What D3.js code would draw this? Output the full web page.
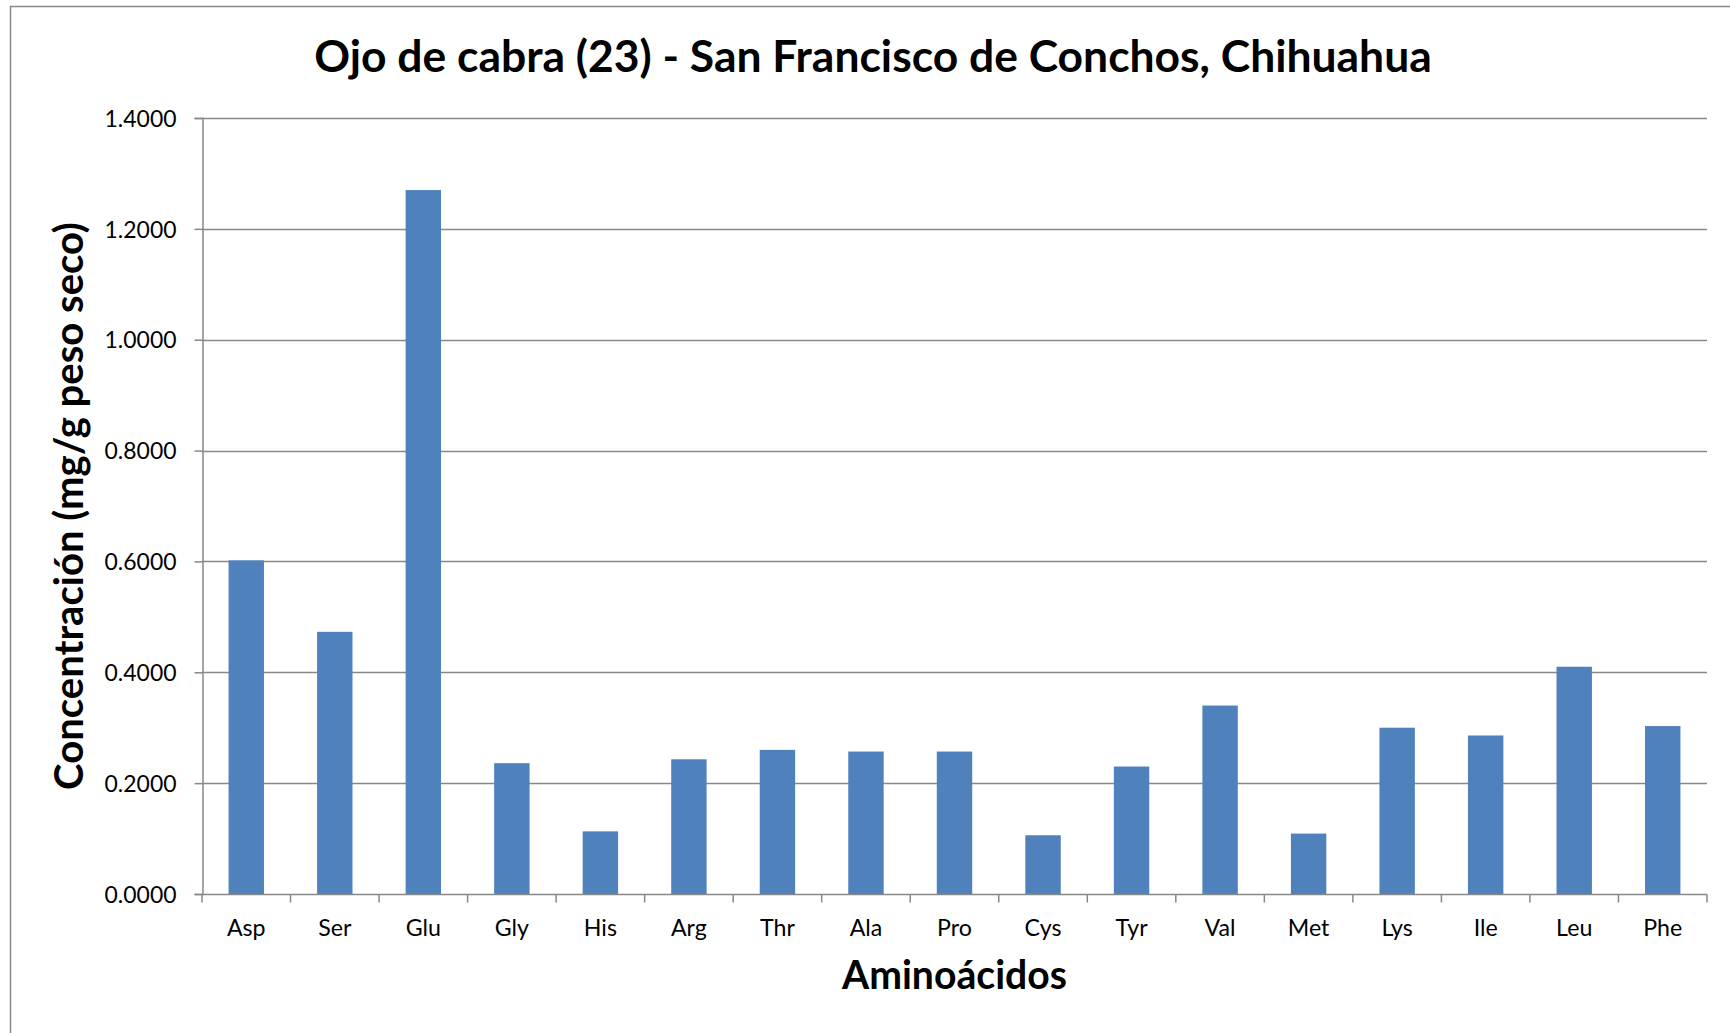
<!DOCTYPE html>
<html>
<head>
<meta charset="utf-8">
<script src="https://cdn.jsdelivr.net/npm/d3@7"></script>
<style>
  body { margin: 0; background: #fff; }
  svg { display: block; }
</style>
</head>
<body>
<div id="chart"></div>
<script>
const aminoacids = ["Asp", "Ser", "Glu", "Gly", "His", "Arg", "Thr", "Ala", "Pro",
                    "Cys", "Tyr", "Val", "Met", "Lys", "Ile", "Leu", "Phe"];
const concentration = [0.602, 0.473, 1.270, 0.236, 0.113, 0.243, 0.260, 0.257, 0.257,
                       0.106, 0.230, 0.340, 0.109, 0.300, 0.286, 0.410, 0.303];
const yTicks = [0, 0.2, 0.4, 0.6, 0.8, 1.0, 1.2, 1.4];

const chartTitle = "Ojo de cabra (23) - San Francisco de Conchos, Chihuahua";
const xTitle = "Aminoácidos";
const yTitle = "Concentración (mg/g peso seco)";

const width = 1730, height = 1033;
const margin = {top: 118, right: 23, bottom: 139, left: 202};
const font = "Lato, 'Open Sans', sans-serif";

const svg = d3.select("#chart").append("svg")
    .attr("width", width)
    .attr("height", height)
    .style("font-family", font);

// outer chart border (right edge runs past the picture)
svg.append("rect")
    .attr("x", 10.5).attr("y", 6.5)
    .attr("width", 1740).attr("height", 1040)
    .attr("fill", "none")
    .attr("stroke", "#898989")
    .attr("stroke-width", 1.5);

const x = d3.scaleBand()
    .domain(aminoacids)
    .range([margin.left, width - margin.right])
    .paddingInner(0.6)
    .paddingOuter(0.3);

const y = d3.scaleLinear()
    .domain([0, 1.4])
    .range([height - margin.bottom, margin.top]);

// font size that makes a text element come out at the target width
function fitSize(sel, target) {
  const base = 40;
  sel.attr("font-size", base);
  const w = sel.node().getComputedTextLength();
  return base * target / w;
}

// gridlines
svg.append("g")
    .selectAll("line")
    .data(yTicks.slice(1))
    .join("line")
    .attr("x1", margin.left)
    .attr("x2", width - margin.right)
    .attr("y1", d => Math.round(y(d)) + 0.5)
    .attr("y2", d => Math.round(y(d)) + 0.5)
    .attr("stroke", "#888")
    .attr("stroke-width", 1.5);

// bars
svg.append("g")
    .selectAll("rect")
    .data(aminoacids.map((a, i) => ({name: a, value: concentration[i]})))
    .join("rect")
    .attr("x", d => x(d.name))
    .attr("y", d => y(d.value))
    .attr("width", x.bandwidth())
    .attr("height", d => y(0) - y(d.value))
    .attr("fill", "#4f81bd");

// y axis
const yAxis = svg.append("g")
    .attr("transform", `translate(${margin.left + 0.5},0)`)
    .call(d3.axisLeft(y).tickValues(yTicks).tickFormat(d3.format(".4f"))
        .tickSize(8).tickPadding(18));
yAxis.select(".domain").attr("stroke", "#888").attr("stroke-width", 1.5);
yAxis.selectAll(".tick line").attr("stroke", "#888").attr("stroke-width", 1.5);
const yLabels = yAxis.selectAll(".tick text")
    .attr("fill", "#000")
    .style("font-family", font)
    .attr("dy", "0.36em");
const yLabelSize = fitSize(yLabels.filter(d => d === 1.4), 72);
yLabels.attr("font-size", yLabelSize);

// x axis with ticks between categories
const xAxisG = svg.append("g")
    .attr("transform", `translate(0,${height - margin.bottom + 0.5})`);
const bounds = d3.range(aminoacids.length + 1).map(i => margin.left + i * (width - margin.left - margin.right) / aminoacids.length);
xAxisG.append("line")
    .attr("x1", margin.left).attr("x2", width - margin.right)
    .attr("stroke", "#888").attr("stroke-width", 1.5);
xAxisG.selectAll(".bt")
    .data(bounds)
    .join("line")
    .attr("class", "bt")
    .attr("x1", d => d).attr("x2", d => d)
    .attr("y1", 0).attr("y2", 8)
    .attr("stroke", "#888").attr("stroke-width", 1.5);
const xLabels = xAxisG.selectAll("text")
    .data(aminoacids)
    .join("text")
    .attr("x", d => x(d) + x.bandwidth() / 2)
    .attr("y", 41)
    .attr("text-anchor", "middle")
    .attr("fill", "#000")
    .text(d => d);
const xLabelSize = fitSize(xLabels.filter(d => d === "Asp"), 38.7);
xLabels.attr("font-size", xLabelSize);

// titles
const t = svg.append("text")
    .attr("x", 873)
    .attr("y", 72)
    .attr("text-anchor", "middle")
    .attr("font-weight", "bold")
    .attr("fill", "#000")
    .text(chartTitle);
t.attr("font-size", fitSize(t, 1118));

const xt = svg.append("text")
    .attr("x", (margin.left + width - margin.right) / 2)
    .attr("y", 989)
    .attr("text-anchor", "middle")
    .attr("font-weight", "bold")
    .attr("fill", "#000")
    .text(xTitle);
xt.attr("font-size", fitSize(xt, 225));

const yt = svg.append("text")
    .attr("transform", `translate(83,${(margin.top + height - margin.bottom) / 2}) rotate(-90)`)
    .attr("text-anchor", "middle")
    .attr("font-weight", "bold")
    .attr("fill", "#000")
    .text(yTitle);
yt.attr("font-size", fitSize(yt, 568));
</script>
</body>
</html>
